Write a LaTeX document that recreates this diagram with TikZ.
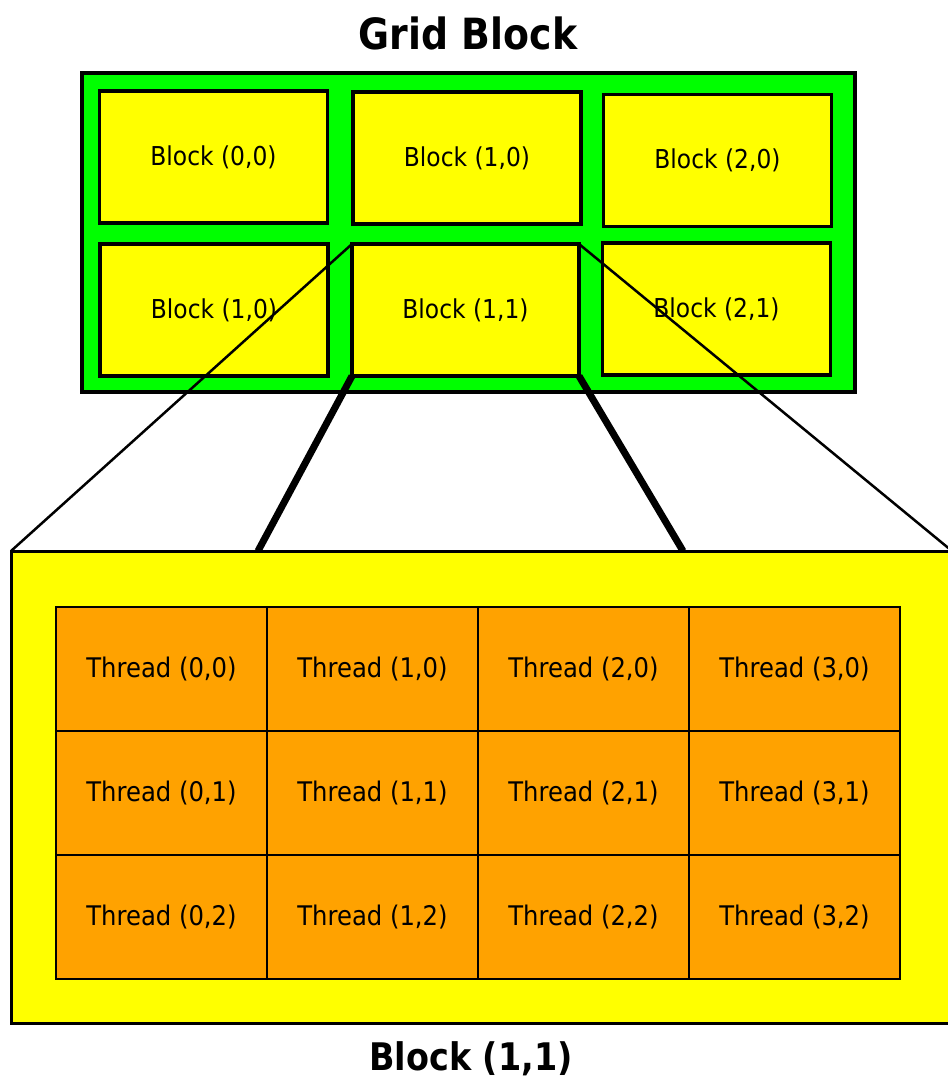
\documentclass[tikz,border=0pt]{standalone}
\usepackage{fontspec}
\setmainfont{DejaVu Sans}
\newfontfamily\boxfont{DejaVu Sans}[FakeStretch=0.9]
\newfontfamily\headfont{DejaVu Sans Bold}[FakeStretch=0.88]
\definecolor{cgreen}{HTML}{00FF00}
\definecolor{cyellow}{HTML}{FFFF00}
\definecolor{corange}{HTML}{FFA200}
\begin{document}
\begin{tikzpicture}[x=1pt,y=-1pt,
  gridbox/.style={draw=black, line width=3.5pt, fill=cgreen, inner sep=0pt, outer sep=0pt,
    minimum width=773pt, minimum height=319pt},
  blockbox/.style={draw=black, line width=3.5pt, fill=cyellow, inner sep=0pt, outer sep=0pt,
    minimum width=228pt, minimum height=132pt, font=\boxfont\fontsize{26}{30}\selectfont},
  bigbox/.style={draw=black, line width=3pt, fill=cyellow, inner sep=0pt, outer sep=0pt,
    minimum width=941pt, minimum height=472pt},
  threadbox/.style={draw=black, line width=2.5pt, fill=corange, inner sep=0pt, outer sep=0pt,
    minimum width=211pt, minimum height=124pt, font=\boxfont\fontsize{27}{30}\selectfont},
  titletext/.style={font=\headfont\fontsize{43}{48}\selectfont},
  thinlink/.style={draw=black, line width=2.5pt},
  thicklink/.style={draw=black, line width=7pt},
]
\useasboundingbox (0,0) rectangle (948,1080);
\clip (0,0) rectangle (948,1080);

% title
\node[titletext] (gtitle) at (468,33) {Grid Block};

% grid of blocks
\node[gridbox] (grid) at (468.5,232.5) {};
\node[blockbox] (b00) at (213.5,157) {Block (0,0)};
\node[blockbox] (b10) at (467,158) {Block (1,0)};
\node[blockbox] (b20) at (717.5,160.5) {Block (2,0)};
\node[blockbox] (b01) at (214,310) {Block (1,0)};
\node[blockbox, minimum width=227pt] (b11) at (465.5,310) {Block (1,1)};
\node[blockbox] (b21) at (716.5,309) {Block (2,1)};

% expanded block
\node[bigbox] (big) at (481.5,787) {};
\coordinate (bigA) at (258,551);
\coordinate (bigB) at (683,551);

% threads
\foreach \c in {0,...,3}
  \foreach \r in {0,1,2}
    \node[threadbox] (t\c\r) at ({161.5+211*\c},{669+124*\r}) {Thread (\c,\r)};

% connectors from Block (1,1) to its expansion
\draw[thinlink] (b11.north west) -- (big.north west);
\draw[thinlink] (b11.north east) -- (big.north east);
\draw[thicklink] (b11.south west) -- (bigA);
\draw[thicklink] (b11.south east) -- (bigB);

% caption
\node[titletext, font=\headfont\fontsize{38}{44}\selectfont] (btitle) at (471,1059) {Block (1,1)};
\end{tikzpicture}
\end{document}
